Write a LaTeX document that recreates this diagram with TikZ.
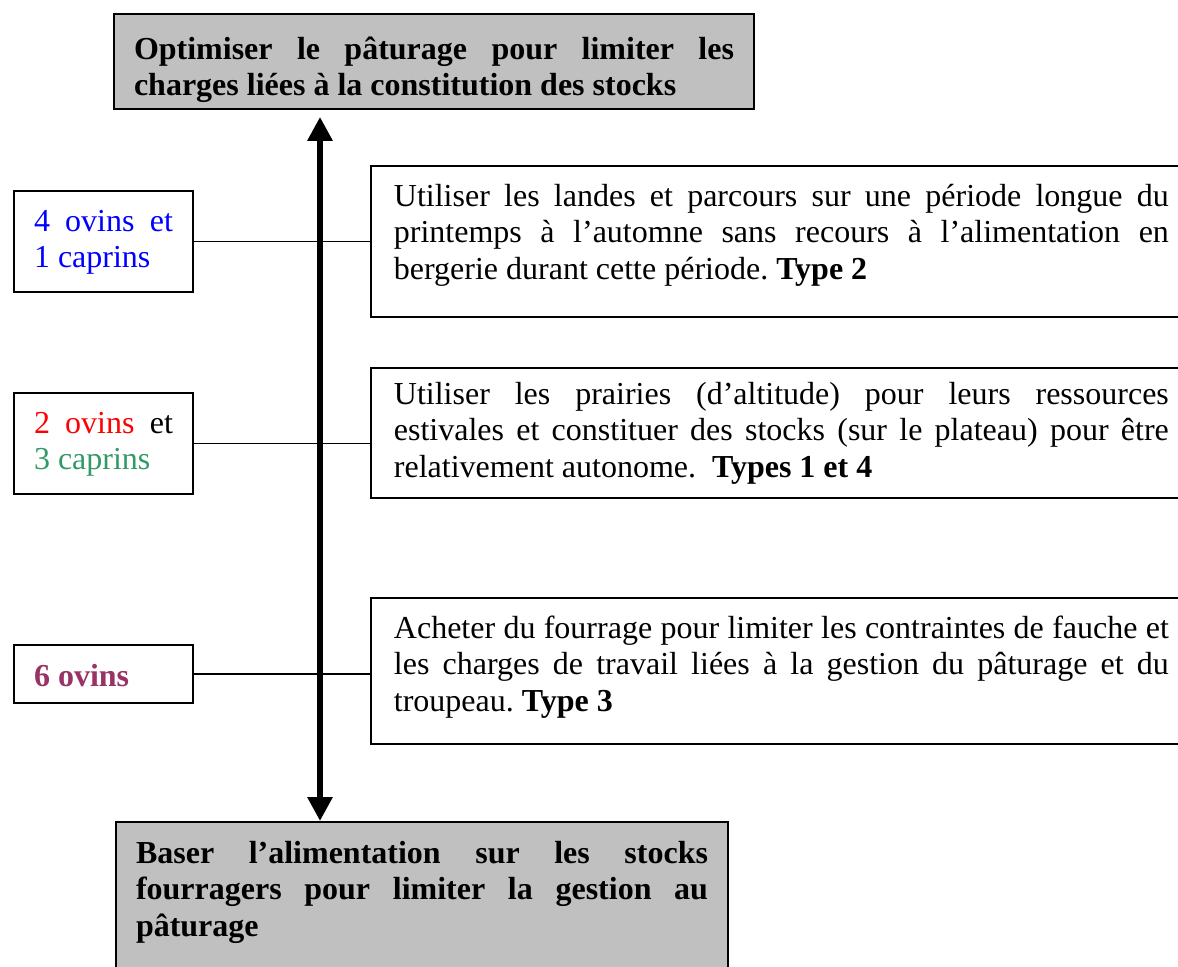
\documentclass[tikz,border=0pt]{standalone}
\usepackage{fontspec}
\setmainfont{Liberation Serif}
\usepackage{xcolor}
\usetikzlibrary{arrows.meta}
\definecolor{gris}{HTML}{C0C0C0}
\definecolor{vert}{HTML}{339966}
\definecolor{prune}{HTML}{993366}
\newcommand{\ligne}[1]{\makebox[\hsize][s]{#1}}

\begin{document}
\frenchspacing
\begin{tikzpicture}[x=0.375pt,y=-0.375pt]
	\useasboundingbox (0,0) rectangle (1178,966);
	\clip (0,0) rectangle (1178,966);

	\begin{scope}[every node/.style={draw,line width=0.75pt,anchor=north west,inner ysep=0pt,align=justify,font=\fontsize{12}{13.8}\selectfont}]
		% objectifs
		\node[fill=gris,inner xsep=7.5pt,text width=225pt,text height=16.9pt,text depth=18.7pt] (haut) at (113,13)
			{\bfseries\ligne{Optimiser le pâturage pour limiter les}\\charges liées à la constitution des stocks};
		\node[fill=gris,inner xsep=7.5pt,text width=214.5pt,text height=15.4pt,text depth=51.8pt] (bas) at (115,821)
			{\bfseries\ligne{Baser l’alimentation sur les stocks}\\\ligne{fourragers pour limiter la gestion au}\\pâturage};

		% strategies
		\node[inner xsep=8.6pt,text width=290.6pt,text height=15pt,text depth=41.6pt] (r1) at (370,165)
			{\ligne{Utiliser les landes et parcours sur une période longue du}\\
			\ligne{printemps à l’automne sans recours à l’alimentation en}\\
			bergerie durant cette période. \textbf{Type 2}};
		\node[inner xsep=8.6pt,text width=290.6pt,text height=13.5pt,text depth=35.2pt] (r2) at (370,367)
			{\ligne{Utiliser les prairies (d’altitude) pour leurs ressources}\\
			\ligne{estivales et constituer des stocks (sur le plateau) pour être}\\
			relativement autonome.\ \ \textbf{Types 1 et 4}};
		\node[inner xsep=8.6pt,text width=290.6pt,text height=15pt,text depth=39.7pt] (r3) at (370,597)
			{\ligne{Acheter du fourrage pour limiter les contraintes de fauche et}\\
			\ligne{les charges de travail liées à la gestion du pâturage et du}\\
			troupeau. \textbf{Type 3}};

		% troupeaux
		\node[inner xsep=7.5pt,text width=52.1pt,text height=15pt,text depth=22.9pt] (l1) at (13,190)
			{\color{blue}\ligne{4 ovins et}\\1 caprins};
		\node[inner xsep=7.5pt,text width=52.1pt,text height=15pt,text depth=22.9pt] (l2) at (13,392)
			{\ligne{\textcolor{red}{2 ovins} et}\\\textcolor{vert}{3 caprins}};
		\node[inner xsep=7.5pt,text width=52.1pt,text height=15.4pt,text depth=6.4pt] (l3) at (13,644)
			{\textcolor{prune}{\bfseries 6 ovins}};
	\end{scope}

	\coordinate (axe) at (320,0);

	\begin{scope}[line width=0.7pt]
		\draw (l1.east) -- (l1.east -| r1.west);
		\draw (l2.east) -- (l2.east -| r2.west);
		\draw (l3.east) -- (l3.east -| r3.west);
	\end{scope}

	\draw[line width=2.6pt,{Triangle[length=9pt,width=9pt]}-{Triangle[length=9pt,width=9pt]},shorten <=2.6pt]
		(haut.south -| axe) -- (bas.north -| axe);
\end{tikzpicture}
\end{document}
